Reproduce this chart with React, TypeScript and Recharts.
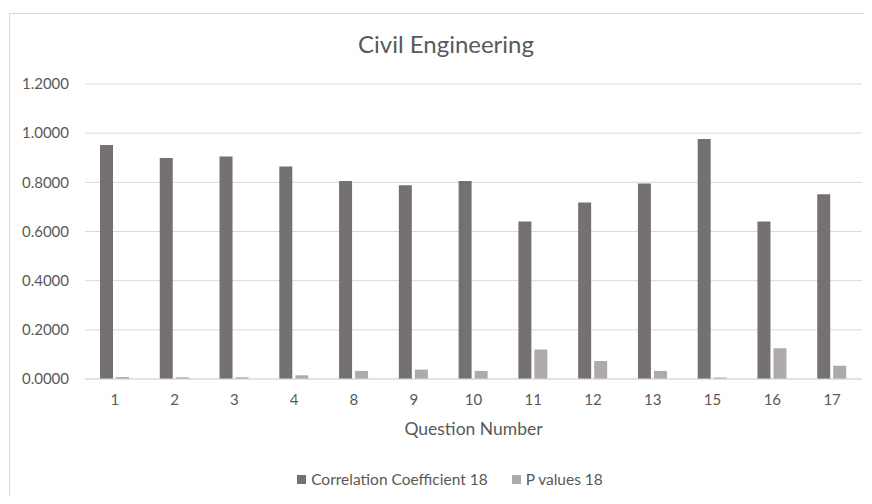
import React from 'react';
import { BarChart, Bar, XAxis, YAxis, CartesianGrid, Legend } from 'recharts';

const questions = ['1', '2', '3', '4', '8', '9', '10', '11', '12', '13', '15', '16', '17'];
const correlation18 = [0.952, 0.899, 0.905, 0.864, 0.805, 0.788, 0.805, 0.641, 0.718, 0.795, 0.976, 0.641, 0.752];
const pValues18 = [0.008, 0.007, 0.007, 0.015, 0.033, 0.038, 0.033, 0.12, 0.073, 0.033, 0.006, 0.125, 0.054];
const yTicks = [0, 0.2, 0.4, 0.6, 0.8, 1.0, 1.2];

const FONT = 'Lato, "Noto Sans", sans-serif';
const TEXT = '#595959';

const data = questions.map((q, i) => ({
  question: q,
  corr: correlation18[i],
  p: pValues18[i],
}));

const renderLegend = (props: any) => {
  const items = props.payload || [];
  return (
    <div
      style={{
        display: 'flex',
        justifyContent: 'center',
        gap: 24,
        fontFamily: FONT,
        fontSize: 15.5,
        color: TEXT,
      }}
    >
      {items.map((item: any) => (
        <span key={item.value} style={{ display: 'inline-flex', alignItems: 'center' }}>
          <span
            style={{
              display: 'inline-block',
              width: 9,
              height: 9,
              background: item.color,
              marginRight: 5,
            }}
          />
          {item.value}
        </span>
      ))}
    </div>
  );
};

export default function App() {
  return (
    <div
      style={{
        position: 'relative',
        width: 872,
        height: 504,
        margin: -8,
        background: '#fff',
        overflow: 'hidden',
      }}
    >
      {/* chart frame */}
      <div
        style={{
          position: 'absolute',
          left: 9,
          top: 13,
          width: 900,
          height: 520,
          borderLeft: '1px solid #D9D9D9',
          borderTop: '1px solid #D9D9D9',
        }}
      />
      <div
        style={{
          position: 'absolute',
          left: 0,
          top: 29,
          width: 892,
          textAlign: 'center',
          fontFamily: FONT,
          fontSize: 24,
          color: TEXT,
        }}
      >
        Civil Engineering
      </div>
      <div style={{ position: 'absolute', left: 0, top: 0 }}>
        <BarChart
          width={872}
          height={504}
          data={data}
          margin={{ top: 84, right: 10, left: 0, bottom: 65 }}
          barSize={13}
          barGap={3}
        >
          <CartesianGrid vertical={false} stroke="#D9D9D9" />
          <XAxis
            dataKey="question"
            height={60}
            axisLine={{ stroke: '#D9D9D9' }}
            tickLine={false}
            tickSize={0}
            tickMargin={15}
            tick={{ fill: TEXT, fontSize: 15, fontFamily: FONT }}
            label={{
              value: 'Question Number',
              position: 'insideBottom',
              offset: 4,
              fill: TEXT,
              fontSize: 17.5,
              fontFamily: FONT,
            }}
          />
          <YAxis
            width={85}
            domain={[0, 1.2]}
            ticks={yTicks}
            tickFormatter={(v: number) => v.toFixed(4)}
            axisLine={false}
            tickLine={false}
            tickSize={0}
            tickMargin={16}
            tick={{ fill: TEXT, fontSize: 15, fontFamily: FONT }}
          />
          <Legend
            layout="horizontal"
            align="center"
            verticalAlign="middle"
            wrapperStyle={{ top: 470, left: 0, width: 900 }}
            content={renderLegend}
          />
          <Bar dataKey="corr" name="Correlation Coefficient 18" fill="#767171" isAnimationActive={false} />
          <Bar dataKey="p" name="P values 18" fill="#AEAAAA" isAnimationActive={false} />
        </BarChart>
      </div>
    </div>
  );
}
